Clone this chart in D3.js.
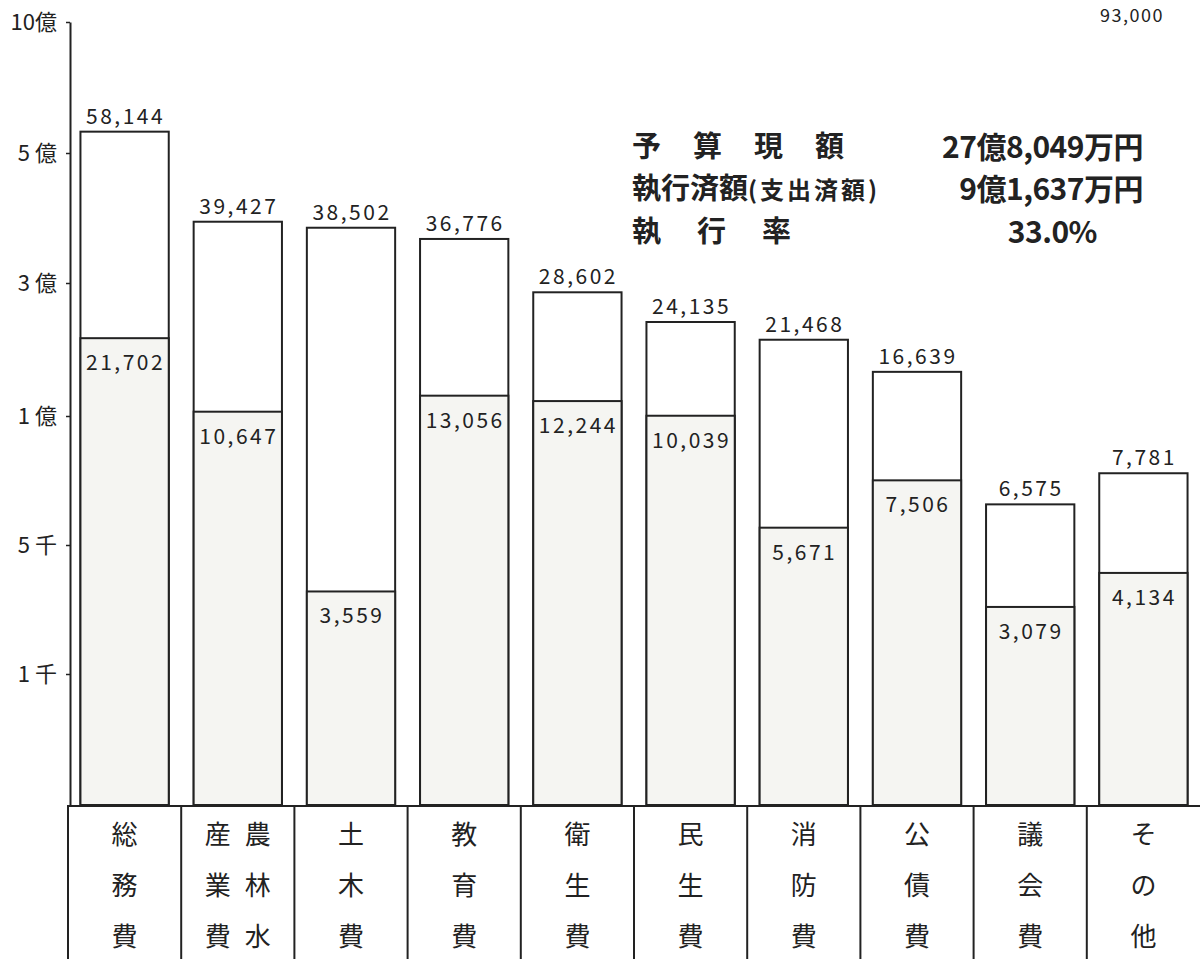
<!DOCTYPE html>
<html>
<head>
<meta charset="utf-8">
<script src="https://d3js.org/d3.v7.min.js"></script>
<style>
body { margin: 0; background: #fff; }
text { font-family: "Noto Sans CJK JP", "Noto Sans", sans-serif; fill: #222; }
</style>
</head>
<body>
<div id="chart"></div>
<script>
// values in 万円
const categories = ["総務費", "農林水産業費", "土木費", "教育費", "衛生費", "民生費", "消防費", "公債費", "議会費", "その他"];
const budget = [58144, 39427, 38502, 36776, 28602, 24135, 21468, 16639, 6575, 7781];
const executed = [21702, 10647, 3559, 13056, 12244, 10039, 5671, 7506, 3079, 4134];
const tickValues = [0, 1000, 5000, 10000, 30000, 50000, 100000];
const tickLabels = ["", "1 千", "5 千", "1 億", "3 億", "5 億", "10億"];

const summaryLabels = ["予算現額", "執行済額", "執行率"];
const summaryValues = ["27億8,049万円", "9億1,637万円", "33.0%"];

const width = 1200, height = 959;
const base = 805;
const fill = "#f5f5f2";

const svg = d3.select("#chart").append("svg")
    .attr("width", width)
    .attr("height", height);

// hand-drawn scale: equal spacing between uneven ticks
const y = d3.scaleLinear()
    .domain(tickValues)
    .range([805, 674, 545, 416, 283, 153, 22]);

const x = d3.scaleBand()
    .domain(categories)
    .range([68, 1200])
    .paddingInner(0.22)
    .paddingOuter(0.11);

const gap = (x.step() - x.bandwidth()) / 2;

// axis
const axis = svg.append("g")
    .attr("transform", "translate(70,0)")
    .call(d3.axisLeft(y)
        .tickValues(tickValues.slice(1))
        .tickSize(4)
        .tickSizeOuter(0)
        .tickPadding(9)
        .tickFormat(d => tickLabels[tickValues.indexOf(d)]));
axis.select(".domain").attr("stroke", "#222").attr("stroke-width", 2);
axis.selectAll(".tick line").attr("stroke", "#222").attr("stroke-width", 1.5);
axis.selectAll(".tick text")
    .attr("font-size", 22)
    .style("font-family", "'Noto Sans CJK JP', sans-serif")
    .attr("fill", "#222");

// bars: whole budget, then executed part
const bars = svg.selectAll(".bar")
    .data(categories)
    .enter().append("g")
    .attr("class", "bar");

bars.append("rect")
    .attr("x", d => x(d))
    .attr("y", (d, i) => y(budget[i]))
    .attr("width", x.bandwidth())
    .attr("height", (d, i) => base - y(budget[i]))
    .attr("fill", "#fff")
    .attr("stroke", "#222")
    .attr("stroke-width", 2);

bars.append("rect")
    .attr("x", d => x(d))
    .attr("y", (d, i) => y(executed[i]))
    .attr("width", x.bandwidth())
    .attr("height", (d, i) => base - y(executed[i]))
    .attr("fill", fill)
    .attr("stroke", "#222")
    .attr("stroke-width", 2);

bars.append("text")
    .attr("x", d => x(d) + x.bandwidth() / 2 + 1)
    .attr("y", (d, i) => y(budget[i]) - 8)
    .attr("text-anchor", "middle")
    .attr("font-size", 21)
    .attr("letter-spacing", 2.5)
    .text((d, i) => d3.format(",")(budget[i]));

bars.append("text")
    .attr("x", d => x(d) + x.bandwidth() / 2 + 1)
    .attr("y", (d, i) => y(executed[i]) + 32)
    .attr("text-anchor", "middle")
    .attr("font-size", 21)
    .attr("letter-spacing", 2.5)
    .text((d, i) => d3.format(",")(executed[i]));

// category table under the bars
svg.append("line")
    .attr("x1", 68).attr("x2", 1200)
    .attr("y1", base + 1).attr("y2", base + 1)
    .attr("stroke", "#222").attr("stroke-width", 2);

svg.selectAll(".sep")
    .data(categories)
    .enter().append("line")
    .attr("x1", d => x(d) - gap).attr("x2", d => x(d) - gap)
    .attr("y1", base).attr("y2", height)
    .attr("stroke", "#222").attr("stroke-width", 2);

const rows = [835, 886, 937];
categories.forEach(function(c) {
    const cx = x(c) + x.bandwidth() / 2;
    const chars = Array.from(c);
    const cols = chars.length > 3 ? [chars.slice(0, 3), chars.slice(3)] : [chars];
    cols.forEach(function(col, j) {
        // vertical writing: first column on the right
        const off = cols.length > 1 ? (j === 0 ? 20 : -20) : 0;
        col.forEach(function(ch, k) {
            svg.append("text")
                .attr("x", cx + off)
                .attr("y", rows[k])
                .attr("dy", "0.35em")
                .attr("text-anchor", "middle")
                .attr("font-size", 26)
                .text(ch);
        });
    });
});

// summary
const sy = [147, 189, 232];
svg.append("text")
    .attr("x", 632).attr("y", sy[0]).attr("dy", "0.36em")
    .attr("font-size", 29).attr("font-weight", 700)
    .attr("letter-spacing", 32)
    .text(summaryLabels[0]);
const l2 = svg.append("text")
    .attr("x", 632).attr("y", sy[1]).attr("dy", "0.36em")
    .attr("font-size", 29).attr("font-weight", 700);
l2.append("tspan").text(summaryLabels[1]);
l2.append("tspan").attr("font-size", 24).attr("letter-spacing", 3).text("(支出済額)");
svg.append("text")
    .attr("x", 632).attr("y", sy[2]).attr("dy", "0.36em")
    .attr("font-size", 29).attr("font-weight", 700)
    .attr("letter-spacing", 36)
    .text(summaryLabels[2]);

[1143, 1143, 1097].forEach(function(xe, i) {
    svg.append("text")
        .attr("x", xe).attr("y", sy[i]).attr("dy", "0.36em")
        .attr("text-anchor", "end")
        .attr("font-size", 30).attr("font-weight", 700)
        .attr("letter-spacing", -0.5)
        .text(summaryValues[i]);
});

// stray figure at the top edge of the scan
svg.append("text")
    .attr("x", 1132).attr("y", 22)
    .attr("text-anchor", "middle")
    .attr("font-size", 18)
    .attr("letter-spacing", 1.5)
    .text("93,000");
</script>
</body>
</html>
